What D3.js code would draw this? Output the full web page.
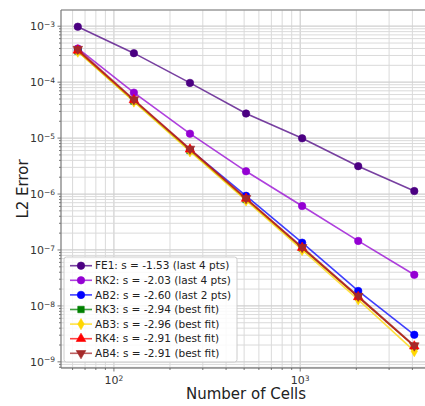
<!DOCTYPE html>
<html>
<head>
<meta charset="utf-8">
<script src="https://cdn.jsdelivr.net/npm/d3@7"></script>
<style>
  html, body { margin: 0; padding: 0; background: #ffffff; }
  svg { display: block; overflow: hidden; font-family: "DejaVu Sans", sans-serif; }
</style>
</head>
<body>
<svg id="chart"></svg>
<script>
// Convergence study: L2 error vs number of cells

const cells = [64, 128, 256, 512, 1024, 2048, 4096];

const fe1 = [9.8e-4, 3.3e-4, 9.7e-5, 2.75e-5, 9.9e-6, 3.15e-6, 1.13e-6];
const rk2 = [4.0e-4, 6.5e-5, 1.2e-5, 2.55e-6, 6.1e-7, 1.45e-7, 3.6e-8];
const ab2 = [3.7e-4, 4.7e-5, 6.2e-6, 9.3e-7, 1.35e-7, 1.85e-8, 3.05e-9];
const rk3 = [3.6e-4, 4.6e-5, 6.0e-6, 8.0e-7, 1.08e-7, 1.45e-8, 1.9e-9];
const ab3 = [3.5e-4, 4.5e-5, 5.8e-6, 7.7e-7, 1.0e-7, 1.3e-8, 1.55e-9];
const rk4 = [3.7e-4, 4.8e-5, 6.3e-6, 8.3e-7, 1.1e-7, 1.45e-8, 1.9e-9];
const ab4 = [3.9e-4, 4.9e-5, 6.4e-6, 8.4e-7, 1.12e-7, 1.5e-8, 1.95e-9];

const seriesNames = ['FE1', 'RK2', 'AB2', 'RK3', 'AB3', 'RK4', 'AB4'];
const seriesValues = [fe1, rk2, ab2, rk3, ab3, rk4, ab4];
const seriesLabels = [
  'FE1: s = -1.53 (last 4 pts)',
  'RK2: s = -2.03 (last 4 pts)',
  'AB2: s = -2.60 (last 2 pts)',
  'RK3: s = -2.94 (best fit)',
  'AB3: s = -2.96 (best fit)',
  'RK4: s = -2.91 (best fit)',
  'AB4: s = -2.91 (best fit)'
];
const seriesColors = ['#4b0082', '#9400d3', '#0000ff', '#008000', '#ffd700', '#ff0000', '#a52a2a'];
const seriesMarkers = ['circle', 'circle', 'circle', 'square', 'diamond', 'triangle', 'triangleDown'];

const xTickValues = [1e2, 1e3];
const xTickExp = ['2', '3'];
const yTickValues = [1e-9, 1e-8, 1e-7, 1e-6, 1e-5, 1e-4, 1e-3];
const yTickExp = ['\u22129', '\u22128', '\u22127', '\u22126', '\u22125', '\u22124', '\u22123'];

const width = 425, height = 406;
const margin = { top: 10, right: -6, bottom: 38, left: 61 };
const innerWidth = width - margin.left - margin.right;
const innerHeight = height - margin.top - margin.bottom;

const svg = d3.select('#chart').attr('width', width).attr('height', height);
const g = svg.append('g').attr('transform', `translate(${margin.left},${margin.top})`);

const x = d3.scaleLog().domain([Math.pow(10, 1.716), Math.pow(10, 3.702)]).range([0, innerWidth]);
const y = d3.scaleLog().domain([Math.pow(10, -9.11), Math.pow(10, -2.71)]).range([innerHeight, 0]);

// minor / major ticks for grid
function logTicks(lo, hi) {
  const out = [];
  for (let e = Math.floor(Math.log10(lo)); e <= Math.ceil(Math.log10(hi)); e++) {
    for (let k = 1; k < 10; k++) {
      const v = k * Math.pow(10, e);
      if (v >= lo && v <= hi) out.push({ v: v, major: k === 1 });
    }
  }
  return out;
}
const xGrid = logTicks(x.domain()[0], x.domain()[1]);
const yGrid = logTicks(y.domain()[0], y.domain()[1]);

// grid
g.append('g').selectAll('line').data(xGrid).join('line')
  .attr('x1', d => x(d.v)).attr('x2', d => x(d.v))
  .attr('y1', 0).attr('y2', innerHeight)
  .attr('stroke', d => d.major ? '#cfcfcf' : '#dadada')
  .attr('stroke-width', d => d.major ? 1.2 : 1);
g.append('g').selectAll('line').data(yGrid).join('line')
  .attr('y1', d => y(d.v)).attr('y2', d => y(d.v))
  .attr('x1', 0).attr('x2', innerWidth)
  .attr('stroke', d => d.major ? '#cfcfcf' : '#dadada')
  .attr('stroke-width', d => d.major ? 1.2 : 1);

// ticks
g.append('g').selectAll('line').data(xGrid).join('line')
  .attr('x1', d => x(d.v)).attr('x2', d => x(d.v))
  .attr('y1', innerHeight).attr('y2', d => innerHeight + (d.major ? 3.5 : 2))
  .attr('stroke', '#555').attr('stroke-width', 0.8);
g.append('g').selectAll('line').data(yGrid).join('line')
  .attr('y1', d => y(d.v)).attr('y2', d => y(d.v))
  .attr('x1', 0).attr('x2', d => d.major ? -3.5 : -2)
  .attr('stroke', '#555').attr('stroke-width', 0.8);

// spines
g.append('line').attr('x1', 0).attr('x2', innerWidth).attr('y1', 0).attr('y2', 0)
  .attr('stroke', '#9a9a9a').attr('stroke-width', 1.5);
g.append('line').attr('x1', 0).attr('x2', innerWidth).attr('y1', innerHeight).attr('y2', innerHeight)
  .attr('stroke', '#555').attr('stroke-width', 1.2);
g.append('line').attr('x1', 0).attr('x2', 0).attr('y1', 0).attr('y2', innerHeight)
  .attr('stroke', '#777').attr('stroke-width', 1.2);

// tick labels
const xLab = g.append('g').selectAll('text').data(xTickValues).join('text')
  .attr('x', d => x(d)).attr('y', innerHeight + 16)
  .attr('text-anchor', 'middle').attr('font-size', '11px').attr('fill', '#333');
xLab.append('tspan').text('10');
xLab.append('tspan').attr('dy', '-0.45em').attr('font-size', '7.5px').text((d, i) => xTickExp[i]);

const yLab = g.append('g').selectAll('text').data(yTickValues).join('text')
  .attr('x', -6).attr('y', d => y(d) + 4)
  .attr('text-anchor', 'end').attr('font-size', '11px').attr('fill', '#333');
yLab.append('tspan').text('10');
yLab.append('tspan').attr('dy', '-0.45em').attr('font-size', '7.5px').text((d, i) => yTickExp[i]);

// axis titles
svg.append('text')
  .attr('x', margin.left + innerWidth / 2).attr('y', 399)
  .attr('text-anchor', 'middle').attr('font-size', '15px').attr('fill', '#222')
  .text('Number of Cells');
svg.append('text')
  .attr('transform', `translate(28,${margin.top + innerHeight / 2}) rotate(-90)`)
  .attr('text-anchor', 'middle').attr('font-size', '15px').attr('fill', '#222')
  .text('L2 Error');

// marker symbols
const symbolTypes = {
  circle: d3.symbolCircle,
  square: d3.symbolSquare,
  diamond: d3.symbolDiamond,
  triangle: d3.symbolTriangle,
  triangleDown: d3.symbolTriangle
};
const symbolSizes = { circle: 44, square: 42, diamond: 36, triangle: 40, triangleDown: 40 };
function drawMarker(sel, type, color, cx, cy) {
  sel.append('path')
    .attr('d', d3.symbol().type(symbolTypes[type]).size(symbolSizes[type])())
    .attr('transform', `translate(${cx},${cy})` + (type === 'triangleDown' ? ' rotate(180)' : ''))
    .attr('fill', color)
    .attr('stroke', color).attr('stroke-width', 0.6);
}

// series
const line = d3.line().x(d => x(d[0])).y(d => y(d[1]));
seriesValues.forEach((vals, si) => {
  const pts = cells.map((c, i) => [c, vals[i]]);
  const sg = g.append('g').attr('class', 'series-' + seriesNames[si]);
  sg.append('path').datum(pts)
    .attr('d', line)
    .attr('fill', 'none')
    .attr('stroke', seriesColors[si])
    .attr('stroke-opacity', 0.75)
    .attr('stroke-width', 1.6);
  pts.forEach(p => drawMarker(sg, seriesMarkers[si], seriesColors[si], x(p[0]), y(p[1])));
});

// legend
const legendX = 3, legendY = 247, rowH = 14.6;
const legend = g.append('g').attr('transform', `translate(${legendX},${legendY})`);
legend.append('rect')
  .attr('x', 0).attr('y', 0).attr('width', 173).attr('height', 105)
  .attr('rx', 2.5)
  .attr('fill', '#ffffff').attr('fill-opacity', 0.85)
  .attr('stroke', '#cccccc').attr('stroke-width', 1);
seriesLabels.forEach((lab, i) => {
  const cy = 8.7 + i * rowH;
  legend.append('line')
    .attr('x1', 6).attr('x2', 28).attr('y1', cy).attr('y2', cy)
    .attr('stroke', seriesColors[i]).attr('stroke-opacity', 0.75).attr('stroke-width', 1.6);
  drawMarker(legend, seriesMarkers[i], seriesColors[i], 17, cy);
  legend.append('text')
    .attr('x', 31).attr('y', cy + 3.7)
    .attr('font-size', '10.5px').attr('fill', '#222')
    .text(lab);
});
</script>
</body>
</html>
